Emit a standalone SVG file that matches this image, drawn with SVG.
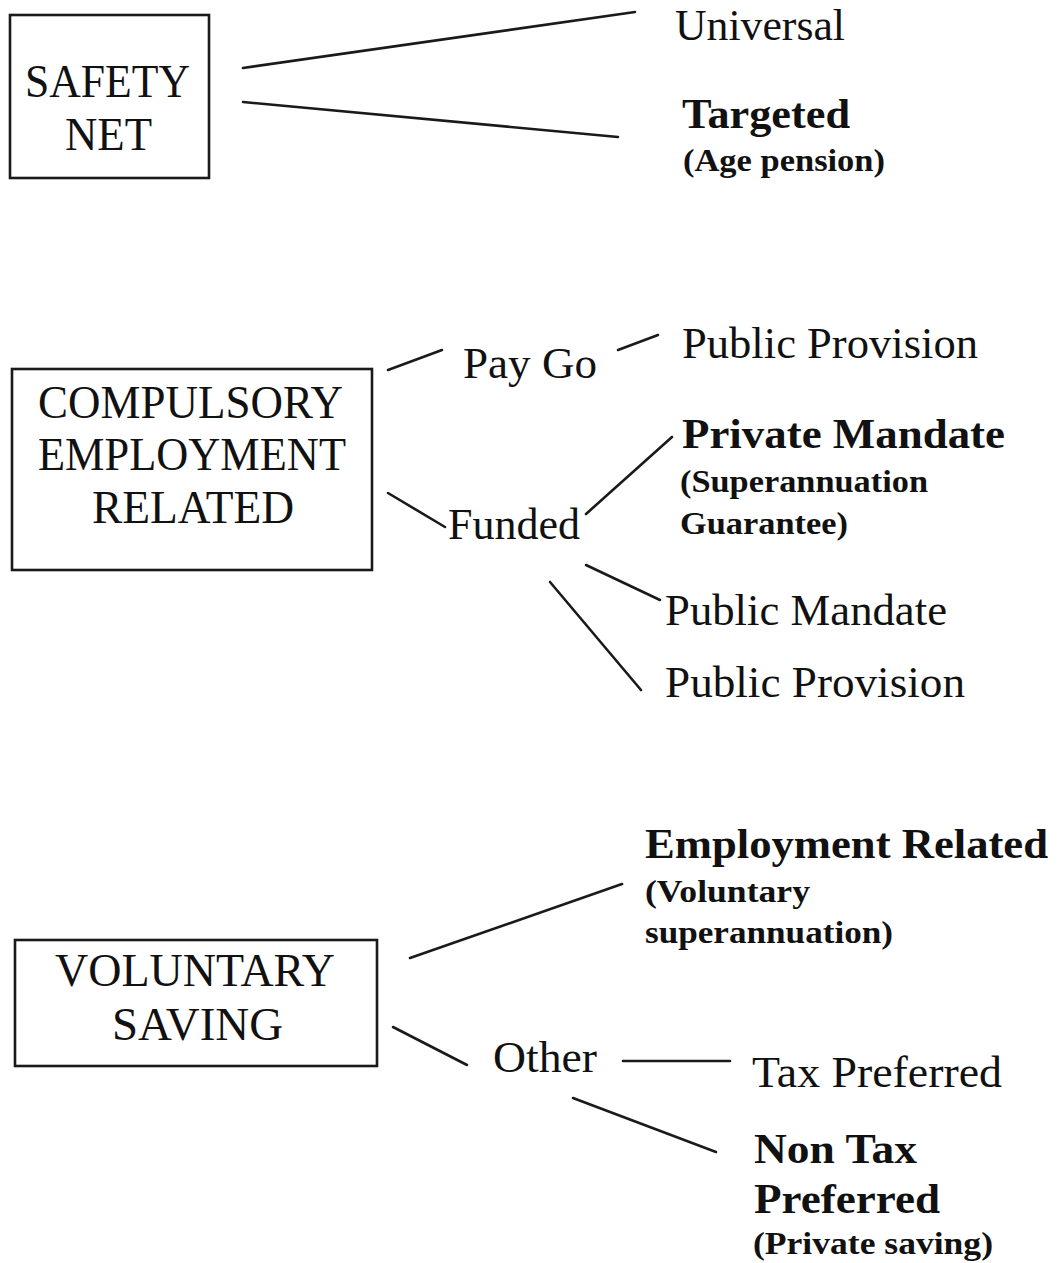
<svg xmlns="http://www.w3.org/2000/svg" width="1059" height="1263" viewBox="0 0 1059 1263">
  <style>
    .box { fill: none; stroke: #1a1a1a; stroke-width: 2.6; }
    .link { stroke: #1a1a1a; stroke-width: 2.6; stroke-linecap: round; fill: none; }
    text { font-family: "Liberation Serif", "Times New Roman", serif; fill: #111; }
    .cap { font-size: 46px; }
    .reg { font-size: 44px; }
    .head { font-size: 42px; font-weight: bold; }
    .note { font-size: 31px; font-weight: bold; }
  </style>
  <rect width="1059" height="1263" fill="#ffffff"/>

  <!-- connectors -->
  <g id="connectors">
    <line class="link" x1="243" y1="68" x2="635" y2="12"/>
    <line class="link" x1="243" y1="102" x2="618" y2="137"/>
    <line class="link" x1="388" y1="370" x2="442" y2="350"/>
    <line class="link" x1="618" y1="350" x2="658" y2="335"/>
    <line class="link" x1="388" y1="493" x2="445" y2="527"/>
    <line class="link" x1="586" y1="514" x2="672" y2="437"/>
    <line class="link" x1="586" y1="565" x2="660" y2="600"/>
    <line class="link" x1="550" y1="582" x2="641" y2="690"/>
    <line class="link" x1="410" y1="958" x2="622" y2="884"/>
    <line class="link" x1="393" y1="1027" x2="467" y2="1065"/>
    <line class="link" x1="623" y1="1061" x2="730" y2="1061"/>
    <line class="link" x1="573" y1="1098" x2="716" y2="1152"/>
  </g>

  <!-- safety net -->
  <g id="safety-net">
    <rect class="box" x="10" y="15" width="199" height="163"/>
    <text class="cap" x="25" y="97" textLength="165" lengthAdjust="spacingAndGlyphs">SAFETY</text>
    <text class="cap" x="65" y="150" textLength="87" lengthAdjust="spacingAndGlyphs">NET</text>
  </g>
  <g id="universal">
    <text class="reg" x="675" y="40" textLength="170" lengthAdjust="spacingAndGlyphs">Universal</text>
  </g>
  <g id="targeted">
    <text class="head" x="682" y="128" textLength="168" lengthAdjust="spacingAndGlyphs">Targeted</text>
    <text class="note" x="683" y="171" textLength="202" lengthAdjust="spacingAndGlyphs">(Age pension)</text>
  </g>

  <!-- compulsory employment related -->
  <g id="compulsory">
    <rect class="box" x="12" y="369" width="360" height="201"/>
    <text class="cap" x="38" y="418" textLength="305" lengthAdjust="spacingAndGlyphs">COMPULSORY</text>
    <text class="cap" x="38" y="470" textLength="308" lengthAdjust="spacingAndGlyphs">EMPLOYMENT</text>
    <text class="cap" x="92" y="523" textLength="202" lengthAdjust="spacingAndGlyphs">RELATED</text>
  </g>
  <g id="pay-go">
    <text class="reg" x="463" y="378" textLength="134" lengthAdjust="spacingAndGlyphs">Pay Go</text>
  </g>
  <g id="paygo-public-provision">
    <text class="reg" x="682" y="358" textLength="296" lengthAdjust="spacingAndGlyphs">Public Provision</text>
  </g>
  <g id="funded">
    <text class="reg" x="448" y="539" textLength="132" lengthAdjust="spacingAndGlyphs">Funded</text>
  </g>
  <g id="private-mandate">
    <text class="head" x="682" y="448" textLength="323" lengthAdjust="spacingAndGlyphs">Private Mandate</text>
    <text class="note" x="680" y="492" textLength="248" lengthAdjust="spacingAndGlyphs">(Superannuation</text>
    <text class="note" x="680" y="534" textLength="168" lengthAdjust="spacingAndGlyphs">Guarantee)</text>
  </g>
  <g id="public-mandate">
    <text class="reg" x="665" y="625" textLength="282" lengthAdjust="spacingAndGlyphs">Public Mandate</text>
  </g>
  <g id="funded-public-provision">
    <text class="reg" x="665" y="697" textLength="300" lengthAdjust="spacingAndGlyphs">Public Provision</text>
  </g>

  <!-- voluntary saving -->
  <g id="voluntary">
    <rect class="box" x="15" y="940" width="362" height="126"/>
    <text class="cap" x="55" y="986" textLength="280" lengthAdjust="spacingAndGlyphs">VOLUNTARY</text>
    <text class="cap" x="112" y="1040" textLength="171" lengthAdjust="spacingAndGlyphs">SAVING</text>
  </g>
  <g id="employment-related">
    <text class="head" x="645" y="858" textLength="403" lengthAdjust="spacingAndGlyphs">Employment Related</text>
    <text class="note" x="645" y="902" textLength="165" lengthAdjust="spacingAndGlyphs">(Voluntary</text>
    <text class="note" x="645" y="943" textLength="248" lengthAdjust="spacingAndGlyphs">superannuation)</text>
  </g>
  <g id="other">
    <text class="reg" x="493" y="1072" textLength="104" lengthAdjust="spacingAndGlyphs">Other</text>
  </g>
  <g id="tax-preferred">
    <text class="reg" x="752" y="1087" textLength="250" lengthAdjust="spacingAndGlyphs">Tax Preferred</text>
  </g>
  <g id="non-tax-preferred">
    <text class="head" x="754" y="1163" textLength="163" lengthAdjust="spacingAndGlyphs">Non Tax</text>
    <text class="head" x="754" y="1213" textLength="186" lengthAdjust="spacingAndGlyphs">Preferred</text>
    <text class="note" x="753" y="1254" textLength="240" lengthAdjust="spacingAndGlyphs">(Private saving)</text>
  </g>
</svg>
